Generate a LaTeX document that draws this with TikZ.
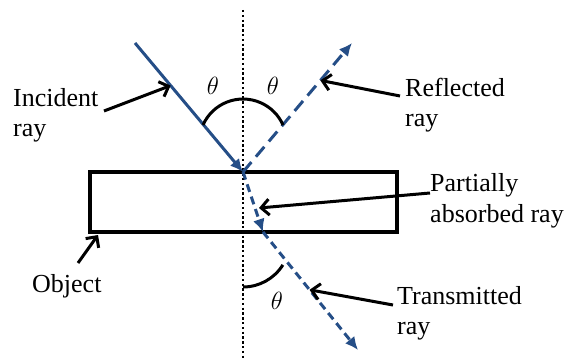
\documentclass[tikz,border=0pt]{standalone}
\usepackage{fontspec}
\setmainfont{Liberation Serif}
\usepackage{xcolor}
\usetikzlibrary{arrows.meta, calc}
\definecolor{raycol}{RGB}{37,78,135}

\begin{document}
\begin{tikzpicture}[
    x=1pt, y=-1pt,
    ray/.style={raycol, line width=3pt, -{Latex[length=13pt,width=12pt]}},
    dashray/.style={ray, dash pattern=on 13pt off 7pt},
    shortdash/.style={ray, dash pattern=on 8pt off 5pt},
    pointer/.style={black, line width=3pt, -{Straight Barb[length=8pt,width=16pt]}},
    label/.style={font=\fontsize{26}{30}\selectfont, align=left, inner sep=0pt, anchor=base west},
    angle/.style={black, line width=3pt},
    thetalabel/.style={font=\fontsize{27}{30}\selectfont}
]
\useasboundingbox (0,0) rectangle (567,358);

% Object (slab) and normal
\draw[line width=3.8pt] (90,172) rectangle (397,232);
\coordinate (top) at (243,10);
\coordinate (bottom) at (243,358);
\draw[line width=2.6pt, dash pattern=on 2.4pt off 2.4pt] (top) -- (bottom);

% Ray points
\coordinate (start) at (135,43);
\coordinate (hit) at (243,172);
\coordinate (refl) at (352,43);
\coordinate (exit) at (263,232);
\coordinate (trans) at (358,350);

% Rays
\draw[ray] (start) -- (hit);
\draw[dashray] (hit) -- (refl);
\draw[shortdash] (hit) -- (exit);
\draw[shortdash] (exit) -- (trans);

% Angles
\draw[angle] (203,125) arc[start angle=-156, end angle=-24, radius=43.8];
\draw[angle] (243,287) arc[start angle=90, end angle=32, radius=47];
\node[thetalabel] (thetaL) at (213,86) {$\theta$};
\node[thetalabel] (thetaR) at (273,86) {$\theta$};
\node[thetalabel] (thetaT) at (277,301) {$\theta$};

% Labels (base = last line)
\node[label] (incident) at (13,137) {Incident\\ray};
\node[label] (reflected) at (405,127) {Reflected\\ray};
\node[label] (partial) at (430,222) {Partially\\absorbed ray};
\node[label] (transmitted) at (397,334) {Transmitted\\ray};
\node[label] (object) at (32,292) {Object};

% Pointer ends
\coordinate (incTail) at (104,111);
\coordinate (incTip) at ($(start)!0.33!(hit)$);
\coordinate (refTail) at (400,96);
\coordinate (refTip) at ($(hit)!0.71!(refl)$);
\coordinate (parTail) at (430,193);
\coordinate (parTip) at (259,208);
\coordinate (traTail) at (393,305);
\coordinate (traTip) at ($(exit)!0.49!(trans)$);
\coordinate (objTail) at (78,263);
\coordinate (objTip) at (98,235);

% Pointers
\draw[pointer] (incTail) -- (incTip);
\draw[pointer] (refTail) -- (refTip);
\draw[pointer] (parTail) -- (parTip);
\draw[pointer] (traTail) -- (traTip);
\draw[pointer] (objTail) -- (objTip);
\end{tikzpicture}
\end{document}
